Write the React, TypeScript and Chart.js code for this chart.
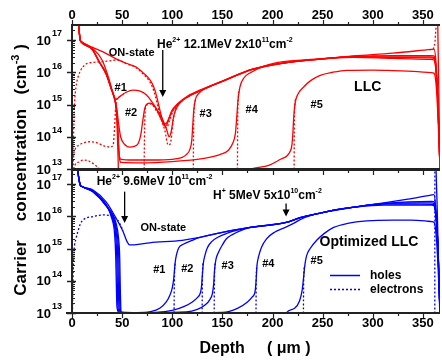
import React, { useEffect, useRef } from 'react';
import { Chart, registerables } from 'chart.js';

Chart.register(...registerables);

type P = [number, number];

// ---------- axes ----------
const X_MIN = 0;
const X_MAX = 367;
const X_LABELS = [0, 50, 100, 150, 200, 250, 300, 350];
const X_TICK_STEP = 25;
const DECADES = [13, 14, 15, 16, 17];
const Y_MIN = 1e13;
const TOP_Y_MAX = 2.92e17;
const BOT_Y_MAX = 2.72e17;

// ---------- top panel: LLC (He2+ 12.1MeV) ----------
const LLC_ON_HOLES: P[] = [[6.5,3e17],[8.2,1e17],[9.5,8.8e16],[20,6e16],[31,4.3e16],[44,2.6e16],[54,1.9e16],[64,1.45e16],[71,9.5e15],[76,6.8e15],[80,4.5e15],[83,2.6e15],[85.5,1.3e15],[88,6e14],[90.5,3.2e14],[92.5,2.5e14],[94.5,2.7e14],[97,4e14],[101,7e14],[111,1.4e15],[127,2.6e15],[150,5.3e15],[180,1.25e16],[214,2e16],[250,2.6e16],[281,3.2e16],[320,3.9e16],[358,5.1e16],[361,5.2e16],[363,2e16],[365,1e15],[367,1e13]];
const LLC_ON_ELEC: P[] = [[0.3,1e11],[0.8,1e13],[1.5,1e14],[2.5,1e15],[4,3.5e15],[6,7e15],[9,1.2e16],[14,1.8e16],[20,2e16],[27.5,2.1e16],[35,2.2e16],[41,2.35e16],[46,2.4e16],[54,1.85e16],[64,1.38e16],[71,8.8e15],[76,6e15],[80,3.6e15],[83,1.9e15],[86,8e14],[89,3.6e14],[92,2.1e14],[94.5,1.9e14],[97,3e14],[101,6.5e14],[106,1.05e15],[111,1.4e15]];
const LLC_1_HOLES: P[] = [[6.5,3e17],[8.2,1e17],[9.5,8.8e16],[20,5.6e16],[30,2.4e16],[37,6e15],[41,2.2e15],[44,1.45e15],[48,1.8e15],[54,2.4e15],[61,2.8e15],[68,2.6e15],[74,2e15],[79,1.3e15],[84,7.5e14],[88,4e14],[91,2.6e14],[93,2.1e14],[95.5,2.8e14],[99,6e14],[106,1.1e15],[115,1.8e15],[130,3e15],[150,5.3e15],[180,1.25e16],[214,2e16],[250,2.6e16],[281,3.1e16],[320,3.3e16],[358,3.3e16],[361,3.2e16],[363,1.4e16],[365,1e15],[367,1e13]];
const LLC_1_ELEC: P[] = [[0.3,1e11],[1,1e13],[3,4e13],[7,5.5e13],[12,6.5e13],[17.5,7e13],[25,6.5e13],[32,5.2e13],[38,4.8e13],[41,5.5e13],[42.5,2e14],[43.5,8e14],[44.5,1.4e15],[48,1.8e15],[54,2.4e15]];
const LLC_2_HOLES: P[] = [[6.5,3e17],[8.2,1e17],[9.5,8.5e16],[20,5.2e16],[27.5,2e16],[34,9e15],[39,3.2e15],[42.5,1.5e15],[44.5,8e14],[46.5,2.5e14],[48.5,1e14],[52,6e13],[57.5,4.8e13],[62,5e13],[66,6.2e13],[68.5,1.1e14],[70.5,3e14],[72.5,7.5e14],[75,1.05e15],[78,1.1e15],[84,7.5e14],[90,3.6e14],[94,1.8e14],[97,1e14],[99,1.5e14],[101.5,4.5e14],[105,8.5e14],[111,1.4e15],[127,2.6e15],[150,5.2e15],[180,1.22e16],[214,2e16],[250,2.6e16],[281,3e16],[320,3e16],[358,3e16],[361,2.9e16],[363,1.3e16],[365,1e15],[367,1e13]];
const LLC_2_ELEC_P: P[] = [[0.5,1e11],[2,1e13],[6,1.6e13],[11,1.9e13],[16,1.8e13],[22,1.4e13],[27.5,1e13],[32,6e12]];
const LLC_2_ELEC_N: P[] = [[71.8,1e11],[72,1e13],[72.3,1e14],[72.8,5e14],[74,9e14],[77,1.05e15],[80,1e15],[84,6.5e14],[87.5,4.5e14],[92.5,1.6e14],[96,5.5e13],[98,6e13],[101,3.3e14],[104,8.5e14],[108,1.2e15]];
const LLC_3_HOLES: P[] = [[6.5,3e17],[8.2,1e17],[9.5,8.5e16],[20,5.2e16],[27.5,2e16],[34,9e15],[39,3.2e15],[42.5,1.5e15],[44,9e14],[45.2,3e14],[46.2,6e13],[47.2,2.5e13],[49,2e13],[60,1.9e13],[80,1.9e13],[100,2e13],[110,2.3e13],[114,2.8e13],[117.5,4e13],[119.5,8e13],[120.5,2.5e14],[121.5,7e14],[123,1.4e15],[127,2.3e15],[135,3.3e15],[150,5.2e15],[180,1.22e16],[214,2e16],[250,2.6e16],[281,3.1e16],[320,2.9e16],[358,2.8e16],[361,2.7e16],[363,1.2e16],[365,1e15],[367,1e13]];
const LLC_3_ELEC: P[] = [[120.8,1e11],[121,1e13],[121.3,2e14],[121.8,7e14],[123,1.4e15]];
const LLC_4_HOLES: P[] = [[6.5,3e17],[8.2,1e17],[9.5,8.5e16],[20,5.2e16],[27.5,2e16],[34,9e15],[39,3.2e15],[42.5,1.5e15],[44,9e14],[45.5,3e14],[46.5,6e13],[47.5,2e13],[49,1.6e13],[70,1.55e13],[100,1.7e13],[130,2.1e13],[147.5,2.8e13],[156,3.8e13],[160.5,6.5e13],[163,1.3e14],[164.3,4e14],[165.5,1.3e15],[167.5,3.5e15],[172,7e15],[177.5,9.5e15],[190,1.5e16],[201,1.9e16],[231,2.4e16],[281,2.9e16],[320,2.7e16],[358,2.5e16],[361,2.4e16],[363,1.1e16],[365,1e15],[367,1e13]];
const LLC_4_ELEC: P[] = [[164.8,1e11],[165,1e13],[165.2,2e14],[165.7,1.3e15],[167,3e15]];
const LLC_5_HOLES: P[] = [[6.5,3e17],[8.2,1e17],[9.5,8.5e16],[20,5.2e16],[27.5,2e16],[34,9e15],[39,3.2e15],[42.5,1.5e15],[44,7e14],[45,2e14],[46,2e13],[47,1e12],[170,1e12],[176,8e12],[185,1.1e13],[197.5,1.35e13],[208,2e13],[214,2.5e13],[217.5,3.5e13],[219.3,5.5e13],[220.3,1.3e14],[221,3.5e14],[222.5,1.1e15],[225,2e15],[231,3.5e15],[238,5.5e15],[247.5,8e15],[260,1e16],[274,1.15e16],[300,1.17e16],[320,1.12e16],[345,1.04e16],[358,9.8e15],[361,9.4e15],[363,4.5e15],[365,4e14],[367,1e13]];
const LLC_5_ELEC: P[] = [[221.3,1e11],[221.5,1e13],[221.7,2e14],[222.3,1e15],[223.5,1.6e15]];
const LLC_END_ELEC: P[] = [[356,5e16],[360,5.2e16],[362,9e16],[363,2.5e17],[364,1e18]];
const LLC_END_HOLES: P[] = [[364.5,1e18],[365.5,1e16],[366.5,1e14],[367.5,1e12]];

// ---------- bottom panel: Optimized LLC ----------
const OPT_ON_HOLES: P[] = [[5.5,3e17],[6.8,1.5e17],[8.2,9.3e16],[9.5,8.5e16],[21,6.5e16],[34,2.8e16],[44,8.7e15],[51,3.3e15],[55,1.6e15],[57.5,1.3e15],[62,1.3e15],[77.5,1.5e15],[110,1.8e15],[127.5,2.2e15],[144,2.9e15],[177.5,4.5e15],[200,5.4e15],[212.5,6.3e15],[227.5,9e15],[245,1.2e16],[261,1.55e16],[285,2e16],[311,2.6e16],[335,3.4e16],[359,4.6e16],[361,4.7e16],[363,1.5e16],[365,1e15],[367,1e13]];
const OPT_ON_ELEC: P[] = [[0.2,1e11],[0.5,1e13],[1,1e14],[2,8e14],[4,2e15],[5.8,3.3e15],[8,5.5e15],[10.8,7.6e15],[21,9.8e15],[31,1.1e16],[41,9.8e15],[45,8e15],[47.5,6e15],[51,3.5e15]];
const OPT_1_HOLES: P[] = [[5.5,3e17],[6.8,1.5e17],[8.2,9.3e16],[9.5,8.5e16],[21,6.1e16],[34,2.3e16],[40,8e15],[42.5,2.8e15],[43.6,6e14],[44.2,8e13],[44.8,1.6e13],[46.5,1.06e13],[52,1.03e13],[65,1.03e13],[78,1.1e13],[87.5,1.4e13],[94,2.2e13],[97.5,3.5e13],[100,6e13],[101.5,1.2e14],[102.8,3.5e14],[104,6e14],[106.5,1.05e15],[111,1.35e15],[120,1.8e15],[127.5,2.2e15],[144,2.9e15],[177.5,4.5e15],[212.5,6.3e15],[227.5,9e15],[245,1.2e16],[261,1.55e16],[285,2e16],[311,2.5e16],[335,2.8e16],[359,2.9e16],[361,2.8e16],[363,1.2e16],[365,1e15],[367,1e13]];
const OPT_1_ELEC: P[] = [[101.6,1e11],[101.8,1e13],[102.1,1e14],[102.8,3.5e14]];
const OPT_2_HOLES: P[] = [[5.5,3e17],[6.8,1.5e17],[8.2,9.3e16],[9.5,8.5e16],[21,6e16],[34,2.25e16],[41,7.5e15],[43.5,2.6e15],[44.6,6e14],[45.2,8e13],[45.8,1.6e13],[47.5,1.05e13],[60,1.03e13],[84,1.05e13],[100,1.2e13],[112,1.6e13],[120,2.2e13],[125,3e13],[127.5,3.8e13],[129,6e13],[130,1.5e14],[131,3.5e14],[132.5,6e14],[135,1.05e15],[139,1.6e15],[145,2.2e15],[155,3e15],[165,3.7e15],[177.5,4.5e15],[212.5,6.3e15],[227.5,9e15],[245,1.2e16],[261,1.55e16],[285,2e16],[311,2.45e16],[335,2.6e16],[359,2.6e16],[361,2.5e16],[363,1.1e16],[365,1e15],[367,1e13]];
const OPT_2_ELEC: P[] = [[129.6,1e11],[129.8,1e13],[130.1,1.5e14],[131,4e14]];
const OPT_3_HOLES: P[] = [[5.5,3e17],[6.8,1.5e17],[8.2,9.3e16],[9.5,8.5e16],[21,5.9e16],[34,2.2e16],[42,7e15],[44.5,2.4e15],[45.6,6e14],[46.2,8e13],[46.8,1.6e13],[48.5,1.05e13],[80,1.03e13],[114,1.08e13],[125,1.3e13],[133,1.8e13],[137.5,2.6e13],[140,4e13],[141.3,8e13],[142.2,2.2e14],[143.5,4.5e14],[146,7.5e14],[150,1.3e15],[154,2e15],[160,2.7e15],[170,3.8e15],[180,4.6e15],[212.5,6.3e15],[227.5,9e15],[245,1.2e16],[261,1.55e16],[285,2e16],[311,2.4e16],[335,2.4e16],[359,2.35e16],[361,2.3e16],[363,1e16],[365,1e15],[367,1e13]];
const OPT_3_ELEC: P[] = [[141.6,1e11],[141.8,1e13],[142.1,1.5e14],[142.8,3.5e14]];
const OPT_4_HOLES: P[] = [[5.5,3e17],[6.8,1.5e17],[8.2,9.3e16],[9.5,8.5e16],[21,5.8e16],[34,2.15e16],[43,6.5e15],[45.5,2.2e15],[46.6,6e14],[47.2,8e13],[47.8,1.6e13],[49.5,1.05e13],[100,1.02e13],[150,1.05e13],[165,1.4e13],[175,2.2e13],[180,3.2e13],[182.5,4.5e13],[183.6,1e14],[184.5,3e14],[186,5.5e14],[189,1.1e15],[194,2e15],[202,3.2e15],[211,4.3e15],[220,5.8e15],[228,8e15],[240,1.1e16],[261,1.5e16],[285,1.95e16],[311,2.2e16],[335,2.2e16],[359,2.2e16],[361,2.1e16],[363,9e15],[365,1e15],[367,1e13]];
const OPT_4_ELEC: P[] = [[183.3,1e11],[183.5,1e13],[183.8,1.5e14],[184.5,3e14]];
const OPT_5_HOLES: P[] = [[5.5,3e17],[6.8,1.5e17],[8.2,9.3e16],[9.5,8.5e16],[21,5.7e16],[34,2.1e16],[44,6e15],[46.5,2e15],[47.6,5e14],[48.2,5e13],[48.8,1e13],[50,1e12],[205,1e12],[214,1.02e13],[222,1.4e13],[227,2.4e13],[229.5,5e13],[231,1.3e14],[232.5,3.5e14],[234,6e14],[237.5,1e15],[244,1.8e15],[252,3e15],[261,4.5e15],[275,6e15],[294,7.2e15],[320,7.6e15],[337.5,7.6e15],[352,7.2e15],[359,6.8e15],[361,6.5e15],[363,3e15],[365,3e14],[367,1e13]];
const OPT_5_ELEC: P[] = [[230.6,1e11],[230.8,1e13],[231.1,1.3e14],[232,3e14]];
const OPT_END_ELEC: P[] = [[361.8,1e11],[361.9,1e18]];
const OPT_END_HOLES: P[] = [[362.5,1e18],[364,3e16],[366,1e14],[367.5,1e12]];

// ---------- styling ----------
const RED = '#ff0000';
const BLUE = '#0000ff';
const DARK = '#1a1a1a';
const AXIS = '#222222';
const FONT = "'Liberation Sans', Arial, Helvetica, sans-serif";

function ds(data: P[], color: string, dashed: boolean, smooth = true) {
  return {
    data: data.map(([x, y]) => ({ x, y })),
    borderColor: color,
    backgroundColor: color,
    borderWidth: 1.3,
    borderDash: dashed ? [2, 2] : [],
    pointRadius: 0,
    fill: false,
    tension: smooth ? 0.4 : 0,
    cubicInterpolationMode: smooth ? 'monotone' : 'default',
  };
}

type Part = [string, boolean];

function rich(ctx: CanvasRenderingContext2D, parts: Part[], x: number, y: number, size: number, align: 'left' | 'center' = 'left') {
  const sup = Math.round(size * 0.62);
  let total = 0;
  for (const [t, s] of parts) {
    ctx.font = `bold ${s ? sup : size}px ${FONT}`;
    total += ctx.measureText(t).width;
  }
  let cx = align === 'center' ? x - total / 2 : x;
  ctx.textAlign = 'left';
  ctx.textBaseline = 'alphabetic';
  for (const [t, s] of parts) {
    ctx.font = `bold ${s ? sup : size}px ${FONT}`;
    ctx.fillText(t, cx, s ? y - size * 0.42 : y);
    cx += ctx.measureText(t).width;
  }
}

function text(ctx: CanvasRenderingContext2D, t: string, x: number, y: number, size: number, align: CanvasTextAlign = 'center') {
  ctx.font = `bold ${size}px ${FONT}`;
  ctx.textAlign = align;
  ctx.textBaseline = 'middle';
  ctx.fillText(t, x, y);
}

function seg(ctx: CanvasRenderingContext2D, x1: number, y1: number, x2: number, y2: number) {
  ctx.beginPath();
  ctx.moveTo(x1, y1);
  ctx.lineTo(x2, y2);
  ctx.stroke();
}

function arrow(ctx: CanvasRenderingContext2D, x: number, y1: number, y2: number) {
  ctx.lineWidth = 1.3;
  seg(ctx, x, y1, x, y2 - 5);
  ctx.beginPath();
  ctx.moveTo(x - 3.5, y2 - 7);
  ctx.lineTo(x + 3.5, y2 - 7);
  ctx.lineTo(x, y2);
  ctx.closePath();
  ctx.fill();
}

function drawYAxis(ctx: CanvasRenderingContext2D, chart: any) {
  const a = chart.chartArea;
  const y = chart.scales.y;
  ctx.lineWidth = 2;
  seg(ctx, a.left, a.top - 1, a.left, a.bottom + 1);
  ctx.lineWidth = 1;
  for (const d of DECADES) {
    for (let m = 1; m <= 9; m++) {
      const v = m * Math.pow(10, d);
      if (v < y.min * 0.999 || v > y.max) continue;
      const py = Math.round(y.getPixelForValue(v)) + 0.5;
      if (m === 1) {
        ctx.lineWidth = 1.5;
        seg(ctx, a.left - 5, py, a.left + 4, py);
        ctx.lineWidth = 1;
      } else {
        seg(ctx, a.left, py, a.left + 3, py);
      }
    }
    const py = y.getPixelForValue(Math.pow(10, d));
    ctx.font = `bold 13px ${FONT}`;
    ctx.textAlign = 'right';
    ctx.textBaseline = 'middle';
    ctx.fillText('10', a.left - 21, py + 1);
    ctx.font = `bold 9px ${FONT}`;
    ctx.textAlign = 'left';
    ctx.fillText(String(d), a.left - 20, py - 6);
  }
}

function drawXTicks(ctx: CanvasRenderingContext2D, chart: any, yLine: number, dir: number) {
  const x = chart.scales.x;
  ctx.lineWidth = 1.2;
  for (let v = X_MIN; v <= X_MAX; v += X_TICK_STEP) {
    const px = Math.round(x.getPixelForValue(v)) + 0.5;
    const major = v % 50 === 0;
    seg(ctx, px, yLine, px, yLine + dir * (major ? 5 : 3));
  }
}

const topDecor = {
  id: 'topDecor',
  afterDraw(chart: any) {
    const { ctx, chartArea: a } = chart;
    const x = chart.scales.x;
    const y = chart.scales.y;
    ctx.save();
    ctx.strokeStyle = AXIS;
    ctx.fillStyle = '#000';
    ctx.lineWidth = 2;
    seg(ctx, a.left - 1, a.top, a.right, a.top);
    seg(ctx, a.left - 1, a.bottom, a.right, a.bottom);
    drawXTicks(ctx, chart, a.top, -1);
    for (const v of X_LABELS) text(ctx, String(v), x.getPixelForValue(v), a.top - 10, 13);
    drawYAxis(ctx, chart);
    // annotations
    ctx.fillStyle = '#000';
    ctx.strokeStyle = '#000';
    rich(ctx, [['He', false], ['2+', true], [' 12.1MeV 2x10', false], ['11', true], ['cm', false], ['-2', true]], 157, 47.5, 12);
    arrow(ctx, x.getPixelForValue(90.5), y.getPixelForValue(4.9e16), y.getPixelForValue(1.7e15));
    text(ctx, 'ON-state', 131.7, 52.5, 11);
    text(ctx, '#1', 120.7, 87.5, 11);
    text(ctx, '#2', 131, 112.5, 11);
    text(ctx, '#3', 205.7, 113.5, 11);
    text(ctx, '#4', 251.7, 109.5, 11);
    text(ctx, '#5', 316.7, 105, 11);
    text(ctx, 'LLC', 367.7, 87.5, 14);
    ctx.restore();
  },
};

const botDecor = {
  id: 'botDecor',
  afterDraw(chart: any) {
    const { ctx, chartArea: a } = chart;
    const x = chart.scales.x;
    const y = chart.scales.y;
    ctx.save();
    ctx.strokeStyle = AXIS;
    ctx.fillStyle = '#000';
    ctx.lineWidth = 2;
    seg(ctx, a.left - 1, a.top, a.right, a.top);
    seg(ctx, a.left - 6, a.bottom, a.right, a.bottom);
    drawXTicks(ctx, chart, a.top, 1);
    drawXTicks(ctx, chart, a.bottom, 1);
    for (const v of X_LABELS) text(ctx, String(v), x.getPixelForValue(v), a.bottom + 10.5, 13);
    drawYAxis(ctx, chart);
    // axis titles
    ctx.fillStyle = '#000';
    text(ctx, 'Depth     ( μm )', (a.left + a.right) / 2 - 1, 349, 16);
    ctx.save();
    ctx.translate(20, 170);
    ctx.rotate(-Math.PI / 2);
    rich(ctx, [['Carrier    concentration   (cm', false], ['-3', true], [' )', false]], 0, 6, 17, 'center');
    ctx.restore();
    // annotations
    ctx.strokeStyle = '#000';
    rich(ctx, [['He', false], ['2+', true], [' 9.6MeV 10', false], ['11', true], ['cm', false], ['-2', true]], 96.7, 184.5, 12);
    rich(ctx, [['H', false], ['+', true], [' 5MeV 5x10', false], ['10', true], ['cm', false], ['-2', true]], 213, 198.5, 12);
    arrow(ctx, x.getPixelForValue(52.5), y.getPixelForValue(5.8e16), y.getPixelForValue(6.2e15));
    arrow(ctx, x.getPixelForValue(213.5), y.getPixelForValue(2.5e16), y.getPixelForValue(9.8e15));
    text(ctx, 'ON-state', 163.3, 228, 11);
    text(ctx, 'Optimized LLC', 369, 242, 14);
    text(ctx, '#1', 159.3, 269.5, 11);
    text(ctx, '#2', 187.3, 268.5, 11);
    text(ctx, '#3', 227.7, 266, 11);
    text(ctx, '#4', 268.3, 263.5, 11);
    text(ctx, '#5', 316.7, 261, 11);
    // legend
    ctx.strokeStyle = BLUE;
    ctx.lineWidth = 1.5;
    seg(ctx, 330, 275.5, 360, 275.5);
    ctx.setLineDash([2, 2]);
    seg(ctx, 330, 289.5, 360, 289.5);
    ctx.setLineDash([]);
    text(ctx, 'holes', 370, 275.5, 12, 'left');
    text(ctx, 'electrons', 370, 289.5, 12, 'left');
    ctx.restore();
  },
};

function makeConfig(datasets: any[], yMax: number, padding: any, plugin: any) {
  return {
    type: 'line',
    data: { datasets },
    options: {
      responsive: false,
      animation: false,
      devicePixelRatio: 1,
      events: [],
      layout: { padding },
      plugins: { legend: { display: false }, tooltip: { enabled: false }, title: { display: false } },
      scales: {
        x: { type: 'linear', min: X_MIN, max: X_MAX, display: false },
        y: { type: 'logarithmic', min: Y_MIN, max: yMax, display: false },
      },
    },
    plugins: [plugin],
  } as any;
}

export default function App() {
  const topRef = useRef<HTMLCanvasElement>(null);
  const botRef = useRef<HTMLCanvasElement>(null);

  useEffect(() => {
    const topSets = [
      ds(LLC_ON_ELEC, RED, true),
      ds(LLC_1_ELEC, RED, true),
      ds(LLC_2_ELEC_P, RED, true),
      ds(LLC_2_ELEC_N, RED, true),
      ds(LLC_3_ELEC, RED, true),
      ds(LLC_4_ELEC, RED, true),
      ds(LLC_5_ELEC, RED, true),
      ds(LLC_END_ELEC, RED, true),
      ds(LLC_ON_HOLES, RED, false),
      ds(LLC_1_HOLES, RED, false),
      ds(LLC_2_HOLES, RED, false),
      ds(LLC_3_HOLES, RED, false),
      ds(LLC_4_HOLES, RED, false),
      ds(LLC_5_HOLES, RED, false),
      ds(LLC_END_HOLES, RED, false, false),
    ];
    const botSets = [
      ds(OPT_ON_ELEC, BLUE, true),
      ds(OPT_1_ELEC, BLUE, true),
      ds(OPT_2_ELEC, BLUE, true),
      ds(OPT_3_ELEC, BLUE, true),
      ds(OPT_4_ELEC, BLUE, true),
      ds(OPT_5_ELEC, DARK, true),
      ds(OPT_END_ELEC, BLUE, true, false),
      ds(OPT_ON_HOLES, BLUE, false),
      ds(OPT_1_HOLES, BLUE, false),
      ds(OPT_2_HOLES, BLUE, false),
      ds(OPT_3_HOLES, BLUE, false),
      ds(OPT_4_HOLES, BLUE, false),
      ds(OPT_5_HOLES, BLUE, false),
      ds(OPT_END_HOLES, BLUE, false, false),
    ];
    const top = new Chart(topRef.current as HTMLCanvasElement, makeConfig(topSets, TOP_Y_MAX, { left: 72, right: 2, top: 25, bottom: 191 }, topDecor));
    const bot = new Chart(botRef.current as HTMLCanvasElement, makeConfig(botSets, BOT_Y_MAX, { left: 72, right: 2, top: 170, bottom: 47 }, botDecor));
    return () => {
      top.destroy();
      bot.destroy();
    };
  }, []);

  const cs: React.CSSProperties = { position: 'absolute', left: 0, top: 0, width: 442, height: 360 };
  return (
    <div style={{ position: 'fixed', left: 0, top: 0, width: 442, height: 360, background: '#ffffff', overflow: 'hidden' }}>
      <canvas ref={topRef} width={442} height={360} style={cs} />
      <canvas ref={botRef} width={442} height={360} style={cs} />
    </div>
  );
}
